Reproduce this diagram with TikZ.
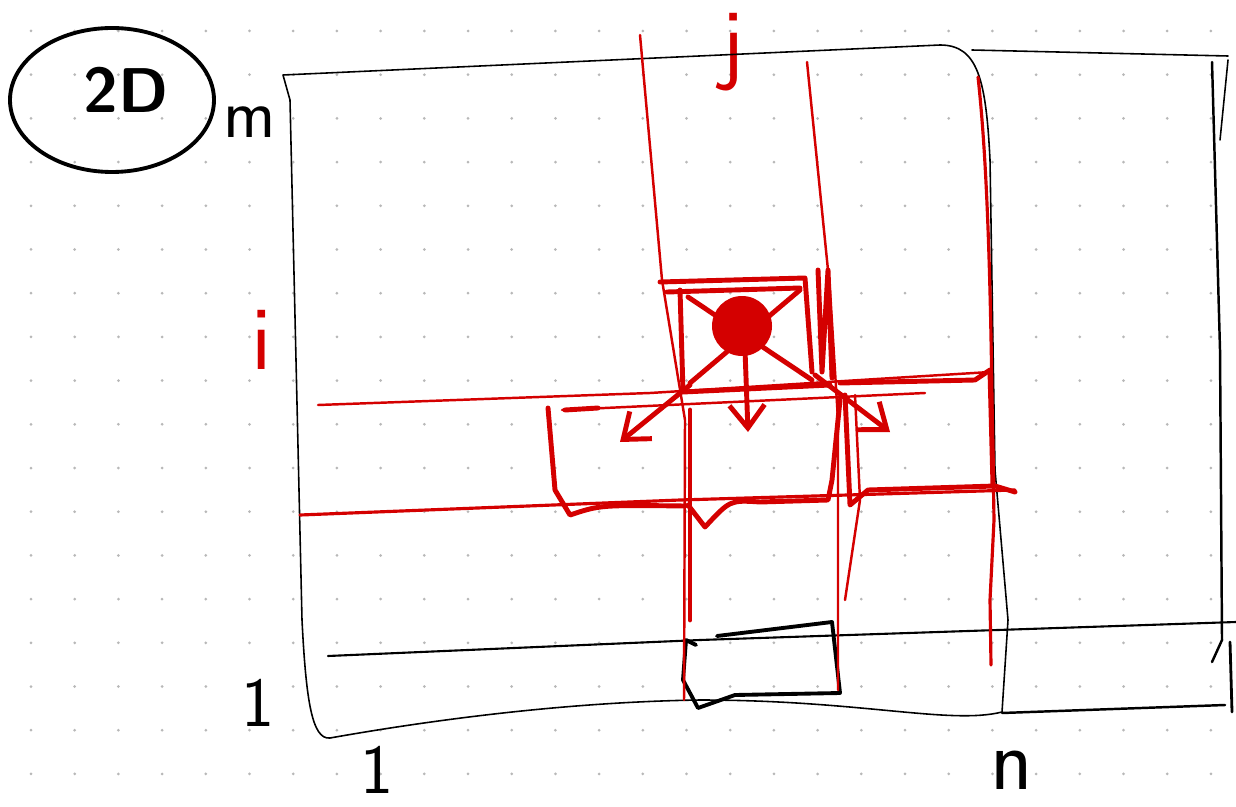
\documentclass[tikz,border=0pt]{standalone}
\usepackage{tikz}
\usetikzlibrary{arrows.meta,calc}
\definecolor{pen}{HTML}{D40000}
\definecolor{griddot}{HTML}{B8B8B8}

\begin{document}
\begin{tikzpicture}[x=0.02cm,y=-0.02cm,
  line cap=round, line join=round,
  blackline/.style={draw=black,line width=0.9pt},
  blackthick/.style={draw=black,line width=2.2pt},
  redline/.style={draw=pen,line width=1.4pt},
  redthick/.style={draw=pen,line width=2.8pt},
  redarrow/.style={draw=pen,line width=2.8pt,-{Straight Barb[length=13pt,width=20pt,line width=2.8pt]}},
  handtext/.style={font=\sffamily\fontsize{40}{40}\selectfont,inner sep=0pt},
  redtext/.style={handtext,text=pen,font=\sffamily\fontsize{52}{52}\selectfont}]

\useasboundingbox (0,0) rectangle (1236,807);
\fill[white] (0,0) rectangle (1236,807);

% ============ dotted paper ============
\foreach \i in {0,...,27}
  \foreach \j in {0,...,17}
    \fill[griddot] ({31+43.7*\i},{31+43.7*\j}) circle[radius=1.5];

% ============ title and axis labels ============
\node[handtext,font=\sffamily\bfseries\fontsize{36}{36}\selectfont] (title) at (126,90) {2D};
\draw[blackthick] (112,100) ellipse[x radius=102, y radius=72];
\node[handtext] (rowtop) at (250,122) {m};
\node[handtext] (rowbot) at (258,703) {1};
\node[handtext] (colleft) at (377,770) {1};
\node[handtext,font=\sffamily\fontsize{50}{50}\selectfont] (colright) at (1012,770) {n};
\node[redtext] (rowi) at (262,340) {i};
\node[redtext] (colj) at (733,52) {j};

% ============ matrix (black) ============
\draw[blackline] (283,75) -- (940,45) .. controls (978,45) and (986,80) .. (990,160)
  -- (995,470) -- (1008,620) -- (1002,712) .. controls (950,725) and (860,700) .. (700,700)
  .. controls (560,702) and (420,722) .. (330,738) .. controls (312,740) and (306,700) .. (302,620)
  -- (290,100) -- (283,75);
% extra column on the right
\draw[blackline] (972,50) -- (1228,56);
\draw[blackline,line width=1.4pt] (1212,62) -- (1220,350) -- (1222,640) -- (1212,662);
\draw[blackline] (1228,60) -- (1220,140);
\draw[blackline,line width=1.4pt] (1002,713) -- (1225,705);
\draw[blackthick,line width=1.6pt] (1230,642) -- (1232,712);
% extra row at the bottom
\draw[blackline,line width=1.2pt] (328,656) -- (700,640) -- (1236,622);
% boundary cell
\draw[blackthick] (717,636) -- (832,622) -- (840,693) -- (735,695) -- (698,708)
  -- (683,680) -- (686,640) -- (696,645);

% ============ row i and column j (red) ============
\draw[redline] (640,35) -- (662,280) -- (685,420) -- (684,700);
\draw[redline] (807,62) -- (830,290) -- (838,420) -- (838,690);
\draw[redline] (318,405) -- (650,393) -- (990,372);
\draw[redline] (562,410) -- (925,393);
\draw[redline,line width=1.8pt] (300,515) -- (680,500) -- (1015,490);
\draw[redline,line width=1.8pt] (978,77) .. controls (986,150) and (990,250) .. (992,400)
  -- (994,520) -- (990,600) -- (991,665);

% ============ current cell ============
\draw[redthick] (660,282) -- (805,278) -- (812,372);
\draw[redthick] (667,292) -- (800,288);
\draw[redthick] (680,290) -- (683,392) -- (830,385);
\draw[redthick] (818,270) -- (822,372) -- (828,270) -- (832,378);
\fill[pen] (742,326) circle[radius=30];
\draw[redthick] (688,297) -- (812,380);
\draw[redthick] (800,290) -- (690,383);

% ============ neighbour cells ============
\draw[redarrow] (690,385) -- (620,442);
\draw[redarrow] (745,350) -- (748,432);
\draw[redarrow] (815,375) -- (890,432);
\draw[redthick] (598,408) -- (565,410);
\draw[redthick] (548,408) -- (555,490) -- (570,515) .. controls (600,505) .. (685,506);
\draw[redthick] (690,410) -- (690,620);
\draw[redthick] (688,505) -- (705,527) .. controls (730,500) .. (760,502) -- (828,500)
  -- (832,480) -- (840,400);
\draw[redline] (855,395) -- (860,500) -- (845,600);
\draw[redthick] (845,395) -- (850,505) -- (868,490) -- (995,486) -- (1015,492);
\draw[redthick] (840,383) -- (975,380) -- (990,370);
\draw[redthick] (990,372) -- (993,486);

\end{tikzpicture}
\end{document}
